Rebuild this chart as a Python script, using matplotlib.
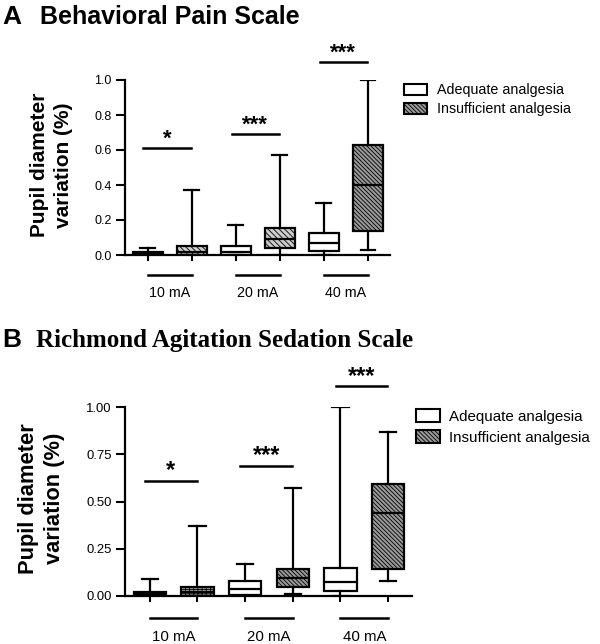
import matplotlib
matplotlib.use("Agg")
import matplotlib.pyplot as plt
from matplotlib.patches import Patch

plt.rcParams['font.family'] = ['Liberation Sans', 'DejaVu Sans']
plt.rcParams['hatch.linewidth'] = 0.6

# Data
groups = ['10 mA', '20 mA', '40 mA']
legend_labels = ['Adequate analgesia', 'Insufficient analgesia']
sig_labels = ['*', '***', '***']

# A: Behavioral Pain Scale, boxes in order 10A,10I,20A,20I,40A,40I
bps_whislo = [0.0, 0.0, 0.0, 0.0, 0.0, 0.03]
bps_q1 = [0.0, 0.0, 0.0, 0.04, 0.025, 0.14]
bps_med = [0.01, 0.02, 0.02, 0.09, 0.07, 0.40]
bps_q3 = [0.02, 0.05, 0.05, 0.155, 0.125, 0.63]
bps_whishi = [0.04, 0.37, 0.17, 0.57, 0.30, 1.0]
bps_sig_y = [0.61, 0.69, 1.10]
bps_yticks = [0.0, 0.2, 0.4, 0.6, 0.8, 1.0]

# B: Richmond Agitation Sedation Scale
rass_whislo = [0.0, 0.0, 0.0, 0.01, 0.0, 0.08]
rass_q1 = [0.0, 0.0, 0.005, 0.05, 0.025, 0.145]
rass_med = [0.01, 0.02, 0.035, 0.095, 0.075, 0.44]
rass_q3 = [0.02, 0.05, 0.08, 0.145, 0.15, 0.59]
rass_whishi = [0.09, 0.37, 0.17, 0.57, 1.0, 0.87]
rass_sig_y = [0.61, 0.69, 1.11]
rass_yticks = [0.0, 0.25, 0.5, 0.75, 1.0]

positions = [1, 2, 3, 4, 5, 6]
fills_a = ['white', '#cfcfcf', 'white', '#cdcdcd', 'white', '#9a9a9a']
fills_b = ['white', '#a0a0a0', 'white', '#9a9a9a', 'white', '#9a9a9a']
hatches_a = [None, r'\\\\\\', None, r'\\\\\\', None, r'\\\\\\\\']
hatches_b = [None, '++++', None, r'\\\\\\\\', None, r'\\\\\\\\']


def draw_panel(ax, whislo, q1, med, q3, whishi, fills, hatches, sig_y, yticks, yfmt,
               fs=1.0, label_x=-0.28):
    stats = []
    for i in range(len(positions)):
        stats.append(dict(whislo=whislo[i], q1=q1[i], med=med[i], q3=q3[i],
                          whishi=whishi[i], fliers=[]))
    lw = 1.6
    bp = ax.bxp(stats, positions=positions, widths=0.68, capwidths=0.34,
                patch_artist=True, showfliers=False,
                boxprops=dict(linewidth=lw, edgecolor='black'),
                medianprops=dict(color='black', linewidth=lw),
                whiskerprops=dict(color='black', linewidth=lw),
                capprops=dict(color='black', linewidth=lw))
    for box, fc, h in zip(bp['boxes'], fills, hatches):
        box.set_facecolor(fc)
        if h:
            box.set_hatch(h)

    ax.set_xlim(0.48, 6.5)
    ax.set_ylim(0, 1.0)
    ax.set_yticks(yticks)
    ax.set_yticklabels([yfmt.format(v) for v in yticks], fontsize=9 * fs)
    ax.set_xticks(positions)
    ax.set_xticklabels([])
    for s in ['top', 'right']:
        ax.spines[s].set_visible(False)
    ax.spines['left'].set_linewidth(1.6)
    ax.spines['bottom'].set_linewidth(1.6)
    ax.tick_params(axis='y', length=6.5, width=1.5, pad=3)
    ax.tick_params(axis='x', length=4.5, width=1.5)

    # significance bars
    for g in range(3):
        x0 = positions[2 * g] - 0.1
        x1 = positions[2 * g + 1] - 0.02
        ax.plot([x0, x1], [sig_y[g], sig_y[g]], color='black', lw=1.8, clip_on=False)
        ax.annotate(sig_labels[g], xy=((x0 + x1) / 2, sig_y[g]), xytext=(0, 2.5),
                    textcoords='offset points', ha='center', va='baseline',
                    fontsize=16 * fs, fontweight='bold', annotation_clip=False)

    # group lines and labels below axis
    tr = ax.get_xaxis_transform()
    for g in range(3):
        x0 = positions[2 * g]
        x1 = positions[2 * g + 1]
        ax.plot([x0, x1], [-0.115, -0.115], color='black', lw=1.8,
                transform=tr, clip_on=False)
        ax.text((x0 + x1) / 2, -0.215, groups[g], transform=tr, ha='center',
                va='center', fontsize=10.3 * fs)

    ax.text(label_x, 0.515, 'Pupil diameter\nvariation (%)', transform=ax.transAxes,
            rotation=90, ha='center', va='center', fontsize=15 * fs,
            fontweight='bold', linespacing=1.3)


fig = plt.figure(figsize=(6.0, 6.44), dpi=100)

ax_a = fig.add_axes([125 / 600, 1 - 255 / 644, 265 / 600, 175 / 644])
draw_panel(ax_a, bps_whislo, bps_q1, bps_med, bps_q3, bps_whishi, fills_a,
           hatches_a, bps_sig_y, bps_yticks, '{:.1f}', fs=1.0, label_x=-0.277)

ax_b = fig.add_axes([125 / 600, 1 - 596 / 644, 287 / 600, 189 / 644])
draw_panel(ax_b, rass_whislo, rass_q1, rass_med, rass_q3, rass_whishi, fills_b,
           hatches_b, rass_sig_y, rass_yticks, '{:.2f}', fs=1.05, label_x=-0.29)

# titles
fig.text(2 / 600, 1 - 24 / 644, 'A', fontsize=19, fontweight='bold', va='baseline')
fig.text(40 / 600, 1 - 24 / 644, 'Behavioral Pain Scale', fontsize=18,
         fontweight='bold', va='baseline')
fig.text(2 / 600, 1 - 347 / 644, 'B', fontsize=19, fontweight='bold', va='baseline')
fig.text(36 / 600, 1 - 347 / 644, 'Richmond Agitation Sedation Scale', fontsize=18,
         fontweight='bold', va='baseline', family=['Liberation Serif', 'DejaVu Serif'])

# legends
handles_a = [Patch(facecolor='white', edgecolor='black', linewidth=1.5),
             Patch(facecolor='#9a9a9a', edgecolor='black', linewidth=1.5,
                   hatch=r'\\\\\\\\')]
fig.legend(handles_a, legend_labels, loc='upper left',
           bbox_to_anchor=(404 / 600, 1 - 83 / 644), frameon=False, fontsize=10.3,
           handlelength=1.6, handleheight=0.8, handletextpad=0.7, labelspacing=0.35,
           borderpad=0, borderaxespad=0)
handles_b = [Patch(facecolor='white', edgecolor='black', linewidth=1.5),
             Patch(facecolor='#9a9a9a', edgecolor='black', linewidth=1.5,
                   hatch=r'\\\\\\\\')]
fig.legend(handles_b, legend_labels, loc='upper left',
           bbox_to_anchor=(416 / 600, 1 - 409 / 644), frameon=False, fontsize=10.9,
           handlelength=1.6, handleheight=0.9, handletextpad=0.6, labelspacing=0.45,
           borderpad=0, borderaxespad=0)

fig.savefig('out.png', dpi=100)
